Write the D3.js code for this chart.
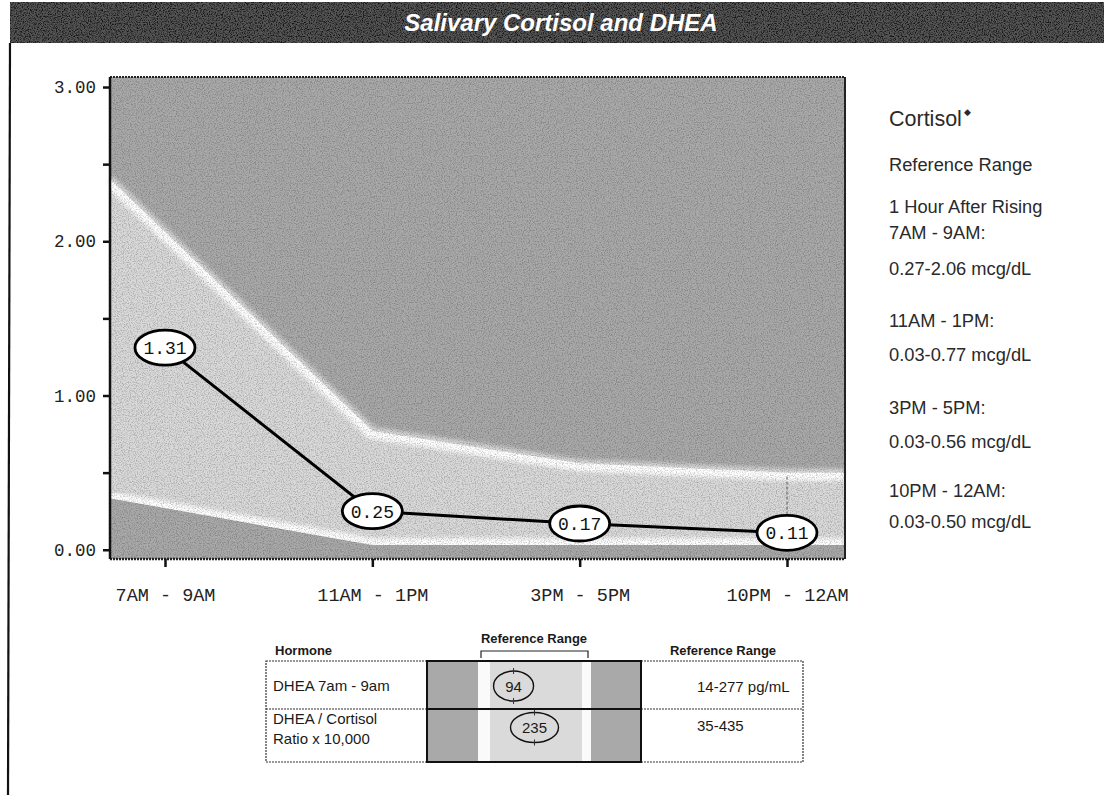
<!DOCTYPE html>
<html><head><meta charset="utf-8">
<script src="https://cdn.jsdelivr.net/npm/d3@7"></script>
<style>body{margin:0;background:#fff}svg{display:block}</style>
</head><body><svg id="c" width="1104" height="795"></svg>
<script>
// ---------- data ----------
const chartTitle = "Salivary Cortisol and DHEA";
const timeLabels = ["7AM - 9AM", "11AM - 1PM", "3PM - 5PM", "10PM - 12AM"];
const cortisol = [1.31, 0.25, 0.17, 0.11];
const refLow = [0.27, 0.03, 0.03, 0.03];
const refHigh = [2.06, 0.77, 0.56, 0.50];
const yMajorTicks = [0, 1, 2, 3];
const yMinorTicks = [0.5, 1.5, 2.5];
const sideTitle = "Cortisol";
const sideLines = [
  "Reference Range",
  "1 Hour After Rising",
  "7AM - 9AM:",
  "0.27-2.06 mcg/dL",
  "11AM - 1PM:",
  "0.03-0.77 mcg/dL",
  "3PM - 5PM:",
  "0.03-0.56 mcg/dL",
  "10PM - 12AM:",
  "0.03-0.50 mcg/dL"
];
const hormoneNames = [["DHEA 7am - 9am"], ["DHEA / Cortisol", "Ratio x 10,000"]];
const hormoneValues = [94, 235];
const hormoneLow = [14, 35];
const hormoneHigh = [277, 435];
const hormoneRangeText = ["14-277 pg/mL", "35-435"];
const tableHeaders = ["Hormone", "Reference Range", "Reference Range"];

// ---------- layout ----------
const svg = d3.select("#c");
const P = {l: 110, r: 845, t: 77, b: 559};
const x = d3.scaleLinear().domain([0, 3]).range([165, 787]);
const xMin = x.invert(P.l), xMax = x.invert(P.r);
const y = d3.scaleLinear().domain([-0.06, 3.065]).range([P.b, P.t]);
const mono = "'Liberation Mono','Courier New',monospace";
const sans = "Arial,'Liberation Sans',sans-serif";

const defs = svg.append("defs");
const grain = defs.append("filter").attr("id", "grain").attr("x", 0).attr("y", 0).attr("width", "100%").attr("height", "100%");
grain.append("feTurbulence").attr("type", "fractalNoise").attr("baseFrequency", 0.85).attr("numOctaves", 2).attr("seed", 3);
grain.append("feColorMatrix").attr("type", "matrix").attr("values", "0 0 0 0 0  0 0 0 0 0  0 0 0 0 0  0 0 0 3 -1.3");
defs.append("filter").attr("id", "soft").append("feGaussianBlur").attr("stdDeviation", 2.2);

// title bar
svg.append("rect").attr("x", 10).attr("y", 2).attr("width", 1094).attr("height", 41).attr("fill", "#555");
svg.append("rect").attr("x", 10).attr("y", 2).attr("width", 1094).attr("height", 41).attr("filter", "url(#grain)").attr("opacity", 0.8);
svg.append("text").attr("x", 561).attr("y", 31).attr("text-anchor", "middle")
  .attr("font-family", "'Liberation Sans Narrow','Arial Narrow','Liberation Sans',sans-serif")
  .attr("font-weight", "bold").attr("font-style", "italic").attr("font-size", 24)
  .attr("fill", "#fff").text(chartTitle);
// left page border
svg.append("line").attr("x1", 10).attr("x2", 8).attr("y1", 43).attr("y2", 795).attr("stroke", "#111").attr("stroke-width", 2.2);

// ---------- plot background ----------
const g = svg.append("g");
g.append("rect").attr("x", P.l).attr("y", P.t).attr("width", P.r - P.l).attr("height", P.b - P.t).attr("fill", "#a9a9a9");

// band extended to plot edges
function extend(arr) {
  const left = arr[0] + (arr[0] - arr[1]) * (0 - xMin);
  const pts = [{i: xMin, v: left}];
  arr.forEach((v, i) => pts.push({i, v}));
  pts.push({i: xMax, v: arr[arr.length - 1]});
  return pts;
}
const hi = extend(refHigh), lo = extend(refLow);
const bandData = hi.map((d, k) => ({i: d.i, h: d.v, l: lo[k].v}));
const area = d3.area().x(d => x(d.i)).y0(d => y(d.l)).y1(d => y(d.h));
defs.append("clipPath").attr("id", "bandClip").append("path").attr("d", area(bandData));
const bl = d3.line().x(d => x(d.i)).y(d => y(d.v));
// soft halo just outside the upper edge
g.append("path").attr("d", bl(hi)).attr("fill", "none")
  .attr("stroke", "#e6e6e6").attr("stroke-width", 8).attr("filter", "url(#soft)").attr("opacity", 0.8);
g.append("path").attr("d", area(bandData)).attr("fill", "#d9d9d9");
const glow = g.append("g").attr("clip-path", "url(#bandClip)");
glow.append("path").attr("d", bl(hi)).attr("fill", "none").attr("stroke", "#fff").attr("stroke-width", 16).attr("filter", "url(#soft)");
glow.append("path").attr("d", bl(lo)).attr("fill", "none").attr("stroke", "#fff").attr("stroke-width", 14).attr("filter", "url(#soft)");
g.append("rect").attr("x", P.l).attr("y", P.t).attr("width", P.r - P.l).attr("height", P.b - P.t).attr("filter", "url(#grain)").attr("opacity", 0.2);

// faint reference guide at the last time point
g.append("line").attr("x1", x(3)).attr("x2", x(3)).attr("y1", y(refHigh[3]) + 4).attr("y2", y(cortisol[3]) - 18)
  .attr("stroke", "#555").attr("stroke-width", 1).attr("stroke-dasharray", "3,2");

// frame
g.append("line").attr("x1", P.l).attr("x2", P.r).attr("y1", P.t).attr("y2", P.t).attr("stroke", "#222").attr("stroke-width", 2).attr("stroke-dasharray", "2,1");
g.append("line").attr("x1", P.l).attr("x2", P.r).attr("y1", P.b).attr("y2", P.b).attr("stroke", "#222").attr("stroke-width", 2.5).attr("stroke-dasharray", "2,1");
g.append("line").attr("x1", P.r).attr("x2", P.r).attr("y1", P.t).attr("y2", P.b).attr("stroke", "#222").attr("stroke-width", 2);
g.append("line").attr("x1", P.l).attr("x2", P.l).attr("y1", P.t).attr("y2", P.b).attr("stroke", "#111").attr("stroke-width", 2.5);

// y axis
const yAxis = d3.axisLeft(y).tickValues(yMajorTicks.concat(yMinorTicks)).tickSize(7).tickPadding(7)
  .tickFormat(d => yMajorTicks.includes(d) ? d3.format(".2f")(d) : "");
const ya = svg.append("g").attr("transform", `translate(${P.l},0)`).call(yAxis);
ya.select(".domain").remove();
ya.selectAll("line").attr("stroke", "#111").attr("stroke-width", 2.5);
ya.selectAll("text").attr("font-family", mono).attr("font-size", 17.5).attr("fill", "#222");

// x axis
const xAxis = d3.axisBottom(x).tickValues([0, 1, 2, 3]).tickSize(8).tickPadding(21).tickFormat(i => timeLabels[i]);
const xa = svg.append("g").attr("transform", `translate(0,${P.b})`).call(xAxis);
xa.select(".domain").remove();
xa.selectAll("line").attr("stroke", "#111").attr("stroke-width", 2.5);
xa.selectAll("text").attr("font-family", mono).attr("font-size", 18.5).attr("fill", "#222");

// line + ellipse labels
const pts = cortisol.map((v, i) => ({i, v}));
g.append("path").attr("d", d3.line().x(d => x(d.i)).y(d => y(d.v))(pts))
  .attr("fill", "none").attr("stroke", "#000").attr("stroke-width", 3);
const lab = g.selectAll(".pt").data(pts).enter().append("g").attr("transform", d => `translate(${x(d.i)},${y(d.v)})`);
lab.append("ellipse").attr("rx", 30).attr("ry", 17.5).attr("fill", "#fff").attr("stroke", "#000").attr("stroke-width", 2.8);
lab.append("text").attr("text-anchor", "middle").attr("dy", "0.36em").attr("font-family", mono).attr("font-size", 18)
  .attr("fill", "#111").text(d => d3.format(".2f")(d.v));

// ---------- side panel ----------
const side = svg.append("g").attr("font-family", sans).attr("fill", "#2a2a2a");
const st = side.append("text").attr("x", 889).attr("y", 126).attr("font-size", 21.5);
st.append("tspan").text(sideTitle);
st.append("tspan").attr("font-size", 9).attr("dy", -11).attr("dx", 2).text("◆");
const sideY = [171, 213, 239, 275, 327, 361, 414, 448, 497, 528];
side.selectAll(".sl").data(sideLines).enter().append("text")
  .attr("x", 889).attr("y", (d, k) => sideY[k]).attr("font-size", 18.3).text(d => d);

// ---------- table ----------
const T = {l: 266, c1: 427, c2: 641, r: 803, t: 661, m: 709, b: 762};
const tg = svg.append("g").attr("font-family", sans).attr("fill", "#1a1a1a");
const hx = [275, 534, 723];
tableHeaders.forEach((h, k) => {
  tg.append("text").attr("x", hx[k]).attr("y", k === 1 ? 643 : 655)
    .attr("text-anchor", k === 0 ? "start" : "middle").attr("font-size", 13).attr("font-weight", "bold").text(h);
});
const rowTop = [T.t, T.m], rowBot = [T.m, T.b];
const hs = hormoneValues.map((v, k) => d3.scaleLinear().domain([hormoneLow[k], hormoneHigh[k]]).range([481, 588]));
// bracket
tg.append("path").attr("d", `M${hs[0](hormoneLow[0])},658V651H${hs[0](hormoneHigh[0])}V658`).attr("fill", "none").attr("stroke", "#222").attr("stroke-width", 1.2);
hormoneValues.forEach((v, k) => {
  const s = hs[k];
  const top = rowTop[k], bot = rowBot[k];
  tg.append("rect").attr("x", T.c1).attr("y", top).attr("width", T.c2 - T.c1).attr("height", bot - top).attr("fill", "#a9a9a9");
  tg.append("rect").attr("x", s(hormoneLow[k]) - 3).attr("y", top).attr("width", s(hormoneHigh[k]) - s(hormoneLow[k]) + 6).attr("height", bot - top).attr("fill", "#dadada");
  tg.append("rect").attr("x", s(hormoneLow[k]) - 3).attr("y", top).attr("width", 12).attr("height", bot - top).attr("fill", "#fafafa");
  tg.append("rect").attr("x", s(hormoneHigh[k]) - 6).attr("y", top).attr("width", 9).attr("height", bot - top).attr("fill", "#fafafa");
  const cy = (top + bot) / 2 + (k === 0 ? 1 : -8);
  const rx = String(v).length > 2 ? 24 : 20;
  tg.append("ellipse").attr("cx", s(v)).attr("cy", cy).attr("rx", rx).attr("ry", 15).attr("fill", "none").attr("stroke", "#111").attr("stroke-width", 1.4);
  tg.append("line").attr("x1", s(v)).attr("x2", s(v)).attr("y1", cy - 18).attr("y2", cy - 12).attr("stroke", "#333").attr("stroke-width", 1);
  tg.append("line").attr("x1", s(v)).attr("x2", s(v)).attr("y1", cy + 12).attr("y2", cy + 18).attr("stroke", "#333").attr("stroke-width", 1);
  tg.append("text").attr("x", s(v)).attr("y", cy + 5.5).attr("text-anchor", "middle").attr("font-size", 15).text(v);
  tg.append("text").attr("x", 697).attr("y", k === 0 ? 692 : 731).attr("font-size", 15).text(hormoneRangeText[k]);
  hormoneNames[k].forEach((ln, j) => {
    tg.append("text").attr("x", 273).attr("y", (k === 0 ? 691 : 724) + j * 20).attr("font-size", 15).text(ln);
  });
});
// table borders
tg.append("rect").attr("x", T.l).attr("y", T.t).attr("width", T.r - T.l).attr("height", T.b - T.t).attr("fill", "none").attr("stroke", "#333").attr("stroke-width", 1.2).attr("stroke-dasharray", "2,1");
tg.append("line").attr("x1", T.l).attr("x2", T.r).attr("y1", T.m).attr("y2", T.m).attr("stroke", "#333").attr("stroke-width", 1.2).attr("stroke-dasharray", "2,1");
tg.append("rect").attr("x", T.c1).attr("y", T.t).attr("width", T.c2 - T.c1).attr("height", T.b - T.t).attr("fill", "none").attr("stroke", "#111").attr("stroke-width", 2);
tg.append("line").attr("x1", T.c1).attr("x2", T.c2).attr("y1", T.m).attr("y2", T.m).attr("stroke", "#111").attr("stroke-width", 2);
</script></body></html>
